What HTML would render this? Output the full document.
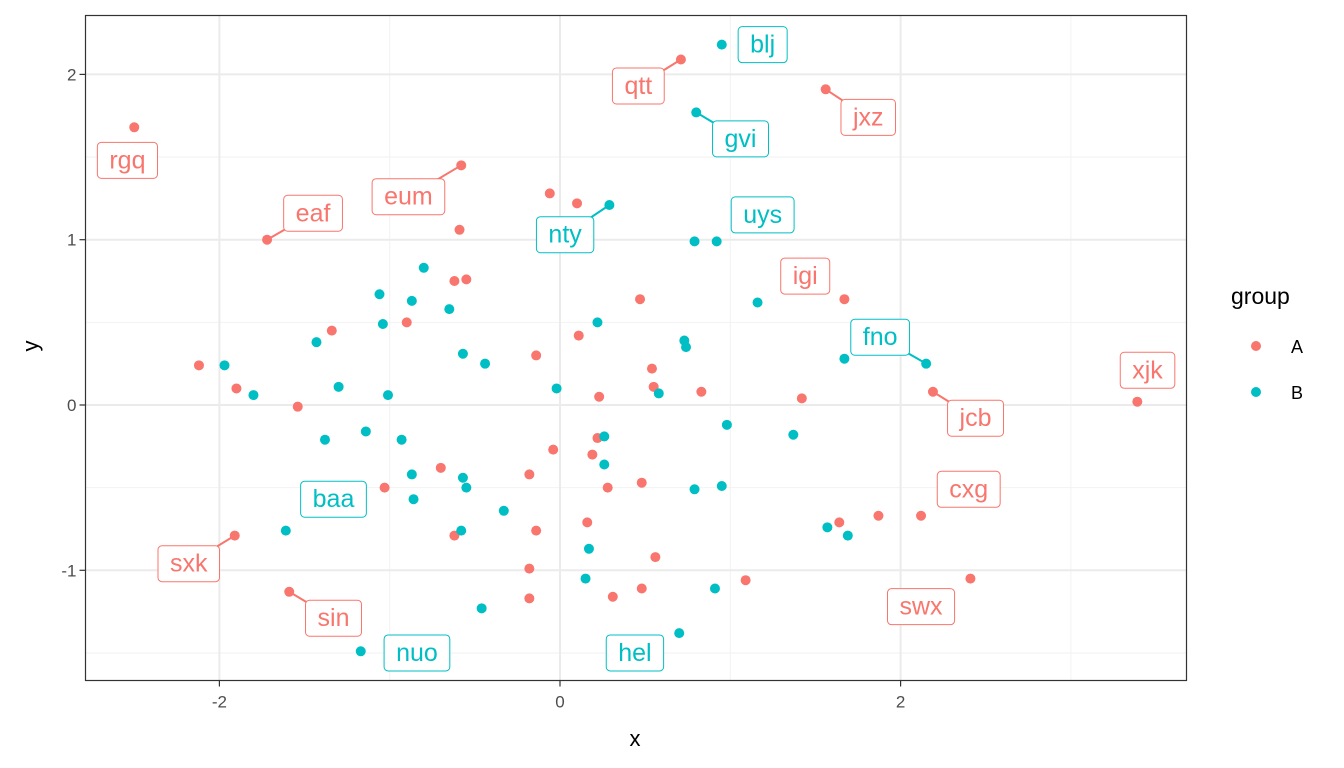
<!DOCTYPE html>
<html><head><meta charset="utf-8"><style>
body{margin:0;background:#fff}
svg{display:block;font-family:"Liberation Sans","DejaVu Sans",sans-serif}
</style></head><body>
<svg id="chart" width="1344" height="768" viewBox="0 0 1344 768">
<rect x="85.5" y="15.5" width="1101" height="665" fill="#fff"/>
<g id="grid"></g>
<g id="segs"></g>
<g id="pts"></g>
<g id="labs"></g>
<rect x="85.5" y="15.5" width="1101" height="665" fill="none" stroke="#333" stroke-width="1.2"/>
<g id="axes"></g>
<text x="635" y="746" font-size="22" text-anchor="middle" fill="#000">x</text>
<text x="38" y="346" font-size="22" text-anchor="middle" fill="#000" transform="rotate(-90 38 346)">y</text>
<g>
<text x="1231" y="304" font-size="23" fill="#000">group</text>
<circle cx="1256" cy="346" r="5" fill="#F8766D"/>
<text x="1291" y="353" font-size="18" fill="#000">A</text>
<circle cx="1256" cy="392" r="5" fill="#00BFC4"/>
<text x="1291" y="399" font-size="18" fill="#000">B</text>
</g>
</svg>
<script>
const xTicks=[-2,0,2];
const yTicks=[-1,0,1,2];
const xMinor=[-1,1,3];
const yMinor=[-1.5,-0.5,0.5,1.5];
const aX=[-2.50,-1.72,-0.58,-0.59,-0.06,0.10,0.71,1.56,-0.62,-0.55,-1.34,-0.90,0.47,0.11,-0.14,0.54,0.55,0.83,0.23,1.42,1.67,2.19,-2.12,-1.90,-1.54,3.39,-0.04,0.22,0.19,-0.70,-0.18,-1.03,0.28,0.48,1.64,1.87,2.12,0.16,-0.14,-1.91,-0.62,0.56,-0.18,1.09,2.41,0.48,0.31,-0.18,-1.59];
const aY=[1.68,1.00,1.45,1.06,1.28,1.22,2.09,1.91,0.75,0.76,0.45,0.50,0.64,0.42,0.30,0.22,0.11,0.08,0.05,0.04,0.64,0.08,0.24,0.10,-0.01,0.02,-0.27,-0.20,-0.30,-0.38,-0.42,-0.50,-0.50,-0.47,-0.71,-0.67,-0.67,-0.71,-0.76,-0.79,-0.79,-0.92,-0.99,-1.06,-1.05,-1.11,-1.16,-1.17,-1.13];
const bX=[0.95,0.80,0.29,0.79,0.92,-0.80,-1.06,-0.87,-0.65,-1.04,0.22,-1.43,0.73,0.74,-0.57,-0.44,-1.97,1.67,2.15,-1.80,-1.30,-1.01,-0.02,0.58,1.16,0.98,-1.14,-1.38,-0.93,0.26,1.37,-0.87,-0.57,-0.55,0.26,0.95,0.79,-0.86,-0.33,-1.61,-0.58,1.57,1.69,0.17,0.15,0.91,-0.46,0.70,-1.17];
const bY=[2.18,1.77,1.21,0.99,0.99,0.83,0.67,0.63,0.58,0.49,0.50,0.38,0.39,0.35,0.31,0.25,0.24,0.28,0.25,0.06,0.11,0.06,0.10,0.07,0.62,-0.12,-0.16,-0.21,-0.21,-0.19,-0.18,-0.42,-0.44,-0.50,-0.36,-0.49,-0.51,-0.57,-0.64,-0.76,-0.76,-0.74,-0.79,-0.87,-1.05,-1.11,-1.23,-1.38,-1.49];
const labText=["rgq","eaf","eum","qtt","blj","jxz","gvi","nty","uys","igi","fno","xjk","jcb","cxg","baa","sxk","swx","sin","nuo","hel"];
const labGroup=["A","A","A","A","B","A","B","B","B","A","B","A","A","A","B","A","A","A","B","B"];
const labX=[-2.54,-1.45,-0.89,0.46,1.19,1.81,1.06,0.03,1.19,1.44,1.88,3.45,2.44,2.40,-1.33,-2.18,2.12,-1.33,-0.84,0.44];
const labY=[1.48,1.16,1.26,1.93,2.18,1.74,1.61,1.03,1.15,0.78,0.41,0.21,-0.08,-0.51,-0.57,-0.96,-1.22,-1.29,-1.50,-1.50];
const segFromX=[null,-1.72,-0.58,0.71,null,1.56,0.80,0.29,null,null,2.15,null,2.19,null,null,-1.91,null,-1.59,null,null];
const segFromY=[null,1.00,1.45,2.09,null,1.91,1.77,1.21,null,null,0.25,null,0.08,null,null,-0.79,null,-1.13,null,null];

const NS="http://www.w3.org/2000/svg";
const X0=85.5,X1=1186.5,Y0=15.5,Y1=680.5;
const sx=v=>560+170.3*v;
const sy=v=>405-165.3*v;
const col={A:"#F8766D",B:"#00BFC4"};
function mk(tag,attrs,parent){const e=document.createElementNS(NS,tag);for(const k in attrs)e.setAttribute(k,attrs[k]);parent.appendChild(e);return e;}
const grid=document.getElementById('grid'),axes=document.getElementById('axes');
xMinor.forEach(v=>{const e=mk('line',{x1:sx(v),x2:sx(v),y1:Y0,y2:Y1,stroke:'#F2F2F2','stroke-width':1},grid);

});
yMinor.forEach(v=>{const e=mk('line',{x1:X0,x2:X1,y1:sy(v),y2:sy(v),stroke:'#F2F2F2','stroke-width':1},grid);

});
xTicks.forEach(v=>{const e=mk('line',{x1:sx(v),x2:sx(v),y1:Y0,y2:Y1,stroke:'#EBEBEB','stroke-width':2},grid);


const t=mk('line',{x1:sx(v),x2:sx(v),y1:Y1,y2:Y1+6,stroke:'#333','stroke-width':1.2},axes);


const l=mk('text',{x:sx(v),y:Y1+27,'font-size':17,'text-anchor':'middle',fill:'#4D4D4D'},axes);l.textContent=String(v);

});
yTicks.forEach(v=>{const e=mk('line',{x1:X0,x2:X1,y1:sy(v),y2:sy(v),stroke:'#EBEBEB','stroke-width':2},grid);


const t=mk('line',{x1:X0-6,x2:X0,y1:sy(v),y2:sy(v),stroke:'#333','stroke-width':1.2},axes);


const l=mk('text',{x:X0-9,y:sy(v)+6,'font-size':17,'text-anchor':'end',fill:'#4D4D4D'},axes);l.textContent=String(v);

});
const pts=document.getElementById('pts');
aX.forEach((v,i)=>{const c=mk('circle',{cx:sx(v),cy:sy(aY[i]),r:5,fill:col.A},pts);

});
bX.forEach((v,i)=>{const c=mk('circle',{cx:sx(v),cy:sy(bY[i]),r:5,fill:col.B},pts);

});
const segs=document.getElementById('segs'),labs=document.getElementById('labs');
labText.forEach((s,i)=>{const c=col[labGroup[i]];const cx=sx(labX[i]),cy=sy(labY[i]);
if(segFromX[i]!==null){const ln=mk('line',{x1:sx(segFromX[i]),y1:sy(segFromY[i]),x2:cx,y2:cy,stroke:c,'stroke-width':2},segs);

}
const g=mk('g',{},labs);


const r=mk('rect',{x:cx-32,y:cy-18,width:64,height:36,rx:4,fill:'#fff',stroke:c,'stroke-width':1},g);
const t=mk('text',{x:cx,y:cy+8,'font-size':25,'text-anchor':'middle',fill:c},g);t.textContent=s;
const w=t.getComputedTextLength()+24;r.setAttribute('x',cx-w/2);r.setAttribute('width',w);});
</script>
</body></html>
